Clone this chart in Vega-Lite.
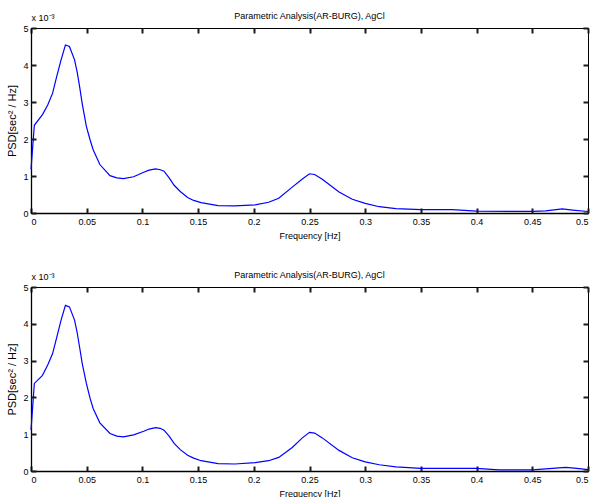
{
  "$schema": "https://vega.github.io/schema/vega-lite/v6.json",
  "padding": {"left": 6, "top": 11, "right": 4, "bottom": 1},
  "background": "white",
  "datasets": {
    "top": [
      {"freq": 0, "psd": 1.18},
      {"freq": 0.003, "psd": 2.37},
      {"freq": 0.0103, "psd": 2.66},
      {"freq": 0.015, "psd": 2.92},
      {"freq": 0.0194, "psd": 3.24},
      {"freq": 0.023, "psd": 3.68},
      {"freq": 0.027, "psd": 4.14},
      {"freq": 0.0309, "psd": 4.54},
      {"freq": 0.0345, "psd": 4.5},
      {"freq": 0.0391, "psd": 4.14},
      {"freq": 0.0415, "psd": 3.8},
      {"freq": 0.0436, "psd": 3.42},
      {"freq": 0.046, "psd": 2.95},
      {"freq": 0.0497, "psd": 2.34},
      {"freq": 0.053, "psd": 1.98},
      {"freq": 0.0558, "psd": 1.71},
      {"freq": 0.0618, "psd": 1.31},
      {"freq": 0.0709, "psd": 1.01},
      {"freq": 0.077, "psd": 0.95},
      {"freq": 0.083, "psd": 0.93},
      {"freq": 0.0921, "psd": 0.98},
      {"freq": 0.1012, "psd": 1.1},
      {"freq": 0.106, "psd": 1.16},
      {"freq": 0.1118, "psd": 1.19},
      {"freq": 0.116, "psd": 1.17},
      {"freq": 0.1194, "psd": 1.13},
      {"freq": 0.124, "psd": 0.95},
      {"freq": 0.1285, "psd": 0.75},
      {"freq": 0.134, "psd": 0.58},
      {"freq": 0.1406, "psd": 0.42},
      {"freq": 0.146, "psd": 0.34},
      {"freq": 0.1527, "psd": 0.28},
      {"freq": 0.1679, "psd": 0.2},
      {"freq": 0.183, "psd": 0.19},
      {"freq": 0.2012, "psd": 0.22},
      {"freq": 0.2133, "psd": 0.29},
      {"freq": 0.2224, "psd": 0.4},
      {"freq": 0.2345, "psd": 0.7},
      {"freq": 0.2436, "psd": 0.92},
      {"freq": 0.25, "psd": 1.06},
      {"freq": 0.2546, "psd": 1.04},
      {"freq": 0.2615, "psd": 0.91},
      {"freq": 0.2765, "psd": 0.57},
      {"freq": 0.2884, "psd": 0.37},
      {"freq": 0.3, "psd": 0.26},
      {"freq": 0.3126, "psd": 0.17},
      {"freq": 0.3275, "psd": 0.12},
      {"freq": 0.35, "psd": 0.09},
      {"freq": 0.378, "psd": 0.09},
      {"freq": 0.4, "psd": 0.05},
      {"freq": 0.433, "psd": 0.045},
      {"freq": 0.45, "psd": 0.045},
      {"freq": 0.462, "psd": 0.06},
      {"freq": 0.477, "psd": 0.11},
      {"freq": 0.486, "psd": 0.08},
      {"freq": 0.5, "psd": 0.04}
    ],
    "bottom": [
      {"freq": 0, "psd": 1.11},
      {"freq": 0.003, "psd": 2.38},
      {"freq": 0.0103, "psd": 2.6},
      {"freq": 0.015, "psd": 2.88},
      {"freq": 0.0194, "psd": 3.19},
      {"freq": 0.023, "psd": 3.62},
      {"freq": 0.027, "psd": 4.1},
      {"freq": 0.0309, "psd": 4.5},
      {"freq": 0.0345, "psd": 4.46},
      {"freq": 0.0391, "psd": 4.1},
      {"freq": 0.0415, "psd": 3.75},
      {"freq": 0.0436, "psd": 3.37},
      {"freq": 0.046, "psd": 2.92},
      {"freq": 0.0497, "psd": 2.38},
      {"freq": 0.053, "psd": 1.98},
      {"freq": 0.0558, "psd": 1.7},
      {"freq": 0.0618, "psd": 1.31},
      {"freq": 0.0709, "psd": 1.02},
      {"freq": 0.077, "psd": 0.95},
      {"freq": 0.083, "psd": 0.93},
      {"freq": 0.0921, "psd": 0.98},
      {"freq": 0.1012, "psd": 1.08},
      {"freq": 0.106, "psd": 1.14},
      {"freq": 0.1118, "psd": 1.18},
      {"freq": 0.116, "psd": 1.16},
      {"freq": 0.1194, "psd": 1.11},
      {"freq": 0.124, "psd": 0.95},
      {"freq": 0.1285, "psd": 0.75},
      {"freq": 0.134, "psd": 0.58},
      {"freq": 0.1406, "psd": 0.43},
      {"freq": 0.146, "psd": 0.35},
      {"freq": 0.1527, "psd": 0.28},
      {"freq": 0.1679, "psd": 0.2},
      {"freq": 0.183, "psd": 0.19},
      {"freq": 0.2012, "psd": 0.23},
      {"freq": 0.2133, "psd": 0.28},
      {"freq": 0.2224, "psd": 0.37},
      {"freq": 0.2345, "psd": 0.64},
      {"freq": 0.2436, "psd": 0.9},
      {"freq": 0.25, "psd": 1.05},
      {"freq": 0.2546, "psd": 1.03},
      {"freq": 0.2615, "psd": 0.9},
      {"freq": 0.2765, "psd": 0.56},
      {"freq": 0.2884, "psd": 0.36},
      {"freq": 0.3, "psd": 0.25},
      {"freq": 0.3126, "psd": 0.17},
      {"freq": 0.3275, "psd": 0.11},
      {"freq": 0.35, "psd": 0.07},
      {"freq": 0.378, "psd": 0.07},
      {"freq": 0.4, "psd": 0.07},
      {"freq": 0.42, "psd": 0.03},
      {"freq": 0.45, "psd": 0.03},
      {"freq": 0.462, "psd": 0.06},
      {"freq": 0.48, "psd": 0.1},
      {"freq": 0.49, "psd": 0.07},
      {"freq": 0.5, "psd": 0.04}
    ]
  },
  "vconcat": [
    {
      "width": 557,
      "height": 185,
      "data": {"name": "top"},
      "title": {"text": "Parametric Analysis(AR-BURG), AgCl", "fontSize": 9, "fontWeight": "normal", "offset": 0, "dy": 8},
      "layer": [
        {
          "mark": {"type": "line", "color": "#0000ff", "strokeWidth": 1.2},
          "encoding": {
            "x": {"field": "freq", "type": "quantitative", "scale": {"domain": [0, 0.5], "nice": false},
              "axis": {"orient": "bottom", "title": "Frequency [Hz]", "values": [0, 0.05, 0.1, 0.15, 0.2, 0.25, 0.3, 0.35, 0.4, 0.45, 0.5], "format": "~g", "ticks": false}},
            "y": {"field": "psd", "type": "quantitative", "scale": {"domain": [0, 5], "nice": false},
              "axis": {"orient": "left", "title": "PSD[sec² / Hz]", "titleFontSize": 11, "values": [0, 1, 2, 3, 4, 5], "ticks": false, "labelPadding": 3}}
          }
        },
        {
          "mark": {"type": "line", "opacity": 0},
          "encoding": {
            "x": {"field": "freq", "type": "quantitative", "scale": {"domain": [0, 0.5], "nice": false},
              "axis": {"orient": "top", "offset": -185, "domain": false, "labels": false, "values": [0, 0.05, 0.1, 0.15, 0.2, 0.25, 0.3, 0.35, 0.4, 0.45, 0.5],
                "ticks": true, "tickSize": 5, "tickColor": "#1a1a1a", "tickWidth": 2,
                "title": "x 10⁻³", "titleAnchor": "start", "titleAlign": "left", "titleAngle": 0, "titleX": 0, "titleY": -191, "titleFontSize": 9}},
            "y": {"field": "psd", "type": "quantitative", "scale": {"domain": [0, 5], "nice": false},
              "axis": {"orient": "right", "offset": -557, "domain": false, "labels": false, "title": null, "values": [0, 1, 2, 3, 4, 5],
                "ticks": true, "tickSize": 5, "tickColor": "#1a1a1a", "tickWidth": 2}}
          }
        },
        {
          "mark": {"type": "line", "opacity": 0},
          "encoding": {
            "x": {"field": "freq", "type": "quantitative", "scale": {"domain": [0, 0.5], "nice": false},
              "axis": {"orient": "bottom", "offset": -185, "domain": false, "labels": false, "title": null, "values": [0, 0.05, 0.1, 0.15, 0.2, 0.25, 0.3, 0.35, 0.4, 0.45, 0.5],
                "ticks": true, "tickSize": 5, "tickColor": "#1a1a1a", "tickWidth": 2}},
            "y": {"field": "psd", "type": "quantitative", "scale": {"domain": [0, 5], "nice": false},
              "axis": {"orient": "left", "offset": -557, "domain": false, "labels": false, "title": null, "values": [0, 1, 2, 3, 4, 5],
                "ticks": true, "tickSize": 5, "tickColor": "#1a1a1a", "tickWidth": 2}}
          }
        }
      ],
      "resolve": {"axis": {"x": "independent", "y": "independent"}}
    },
    {
      "width": 557,
      "height": 184,
      "data": {"name": "bottom"},
      "title": {"text": "Parametric Analysis(AR-BURG), AgCl", "fontSize": 9, "fontWeight": "normal", "offset": 0, "dy": 8},
      "layer": [
        {
          "mark": {"type": "line", "color": "#0000ff", "strokeWidth": 1.2},
          "encoding": {
            "x": {"field": "freq", "type": "quantitative", "scale": {"domain": [0, 0.5], "nice": false},
              "axis": {"orient": "bottom", "title": "Frequency [Hz]", "values": [0, 0.05, 0.1, 0.15, 0.2, 0.25, 0.3, 0.35, 0.4, 0.45, 0.5], "format": "~g", "ticks": false}},
            "y": {"field": "psd", "type": "quantitative", "scale": {"domain": [0, 5], "nice": false},
              "axis": {"orient": "left", "title": "PSD[sec² / Hz]", "titleFontSize": 11, "values": [0, 1, 2, 3, 4, 5], "ticks": false, "labelPadding": 3}}
          }
        },
        {
          "mark": {"type": "line", "opacity": 0},
          "encoding": {
            "x": {"field": "freq", "type": "quantitative", "scale": {"domain": [0, 0.5], "nice": false},
              "axis": {"orient": "top", "offset": -184, "domain": false, "labels": false, "values": [0, 0.05, 0.1, 0.15, 0.2, 0.25, 0.3, 0.35, 0.4, 0.45, 0.5],
                "ticks": true, "tickSize": 5, "tickColor": "#1a1a1a", "tickWidth": 2,
                "title": "x 10⁻³", "titleAnchor": "start", "titleAlign": "left", "titleAngle": 0, "titleX": 0, "titleY": -190, "titleFontSize": 9}},
            "y": {"field": "psd", "type": "quantitative", "scale": {"domain": [0, 5], "nice": false},
              "axis": {"orient": "right", "offset": -557, "domain": false, "labels": false, "title": null, "values": [0, 1, 2, 3, 4, 5],
                "ticks": true, "tickSize": 5, "tickColor": "#1a1a1a", "tickWidth": 2}}
          }
        },
        {
          "mark": {"type": "line", "opacity": 0},
          "encoding": {
            "x": {"field": "freq", "type": "quantitative", "scale": {"domain": [0, 0.5], "nice": false},
              "axis": {"orient": "bottom", "offset": -184, "domain": false, "labels": false, "title": null, "values": [0, 0.05, 0.1, 0.15, 0.2, 0.25, 0.3, 0.35, 0.4, 0.45, 0.5],
                "ticks": true, "tickSize": 5, "tickColor": "#1a1a1a", "tickWidth": 2}},
            "y": {"field": "psd", "type": "quantitative", "scale": {"domain": [0, 5], "nice": false},
              "axis": {"orient": "left", "offset": -557, "domain": false, "labels": false, "title": null, "values": [0, 1, 2, 3, 4, 5],
                "ticks": true, "tickSize": 5, "tickColor": "#1a1a1a", "tickWidth": 2}}
          }
        }
      ],
      "resolve": {"axis": {"x": "independent", "y": "independent"}}
    }
  ],
  "spacing": 74,
  "bounds": "flush",
  "config": {
    "font": "Liberation Sans",
    "view": {"stroke": "#000000", "strokeWidth": 1},
    "title": {"color": "#000000"},
    "axis": {
      "grid": false,
      "domainColor": "#000000",
      "domainWidth": 1.3,
      "labelPadding": 4,
      "labelFontSize": 9,
      "labelColor": "#000000",
      "titleFontSize": 9,
      "titleFontWeight": "normal",
      "titleColor": "#000000",
      "titlePadding": 5
    }
  }
}
